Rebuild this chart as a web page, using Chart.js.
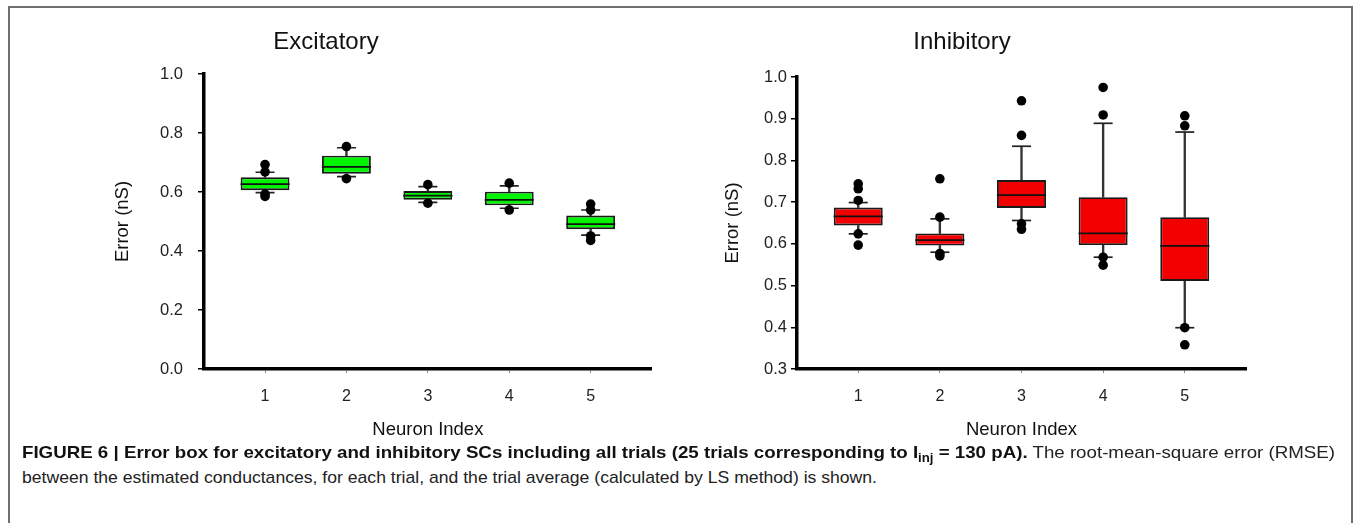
<!DOCTYPE html>
<html>
<head>
<meta charset="utf-8">
<script src="https://cdn.jsdelivr.net/npm/chart.js@4.4.1/dist/chart.umd.min.js"></script>
<style>
  html, body { margin: 0; padding: 0; background: #fff; }
  body { width: 1357px; height: 523px; position: relative; overflow: hidden; font-family: "Liberation Sans", Arial, sans-serif; }
  #frame { position: absolute; left: 8px; top: 6px; width: 1345px; height: 540px; border: 2px solid #6e6e6e; border-bottom: none; box-sizing: border-box; }
  #c1 { position: absolute; left: 0; top: 0; }
  #c2 { position: absolute; left: 678px; top: 0; }
  .cap { position: absolute; left: 22px; white-space: nowrap; font-size: 17px; line-height: 20px; color: #222; transform-origin: left center; }
  #l1 { top: 443px; }
  #l2 { top: 468px; }
  .cap b { font-weight: bold; color: #111; }
  sub { font-size: 12px; vertical-align: -4px; line-height: 0; }
</style>
</head>
<body>
<div id="frame"></div>
<canvas id="c1" width="678" height="445"></canvas>
<canvas id="c2" width="679" height="445"></canvas>
<div class="cap" id="l1"><b>FIGURE 6 | Error box for excitatory and inhibitory SCs including all trials (25 trials corresponding to I<sub>inj</sub> = 130 pA).</b> The root-mean-square error (RMSE)</div>
<div class="cap" id="l2">between the estimated conductances, for each trial, and the trial average (calculated by LS method) is shown.</div>
<script>
// ---------- data ----------
const categories = [1, 2, 3, 4, 5];
const xTicks = [1, 2, 3, 4, 5];

const excQ1  = [0.606, 0.662, 0.574, 0.555, 0.474];
const excMed = [0.627, 0.685, 0.588, 0.573, 0.491];
const excQ3  = [0.650, 0.723, 0.603, 0.601, 0.520];
const excLo  = [0.598, 0.652, 0.565, 0.545, 0.454];
const excHi  = [0.667, 0.750, 0.618, 0.621, 0.539];
const excOut = [
  [0.693, 0.668, 0.593, 0.585],
  [0.754, 0.645],
  [0.625, 0.562],
  [0.630, 0.539],
  [0.559, 0.539, 0.451, 0.436]
];
const excYTicks = [0.0, 0.2, 0.4, 0.6, 0.8, 1.0];

const inhQ1  = [0.644, 0.596, 0.686, 0.597, 0.511];
const inhMed = [0.666, 0.609, 0.717, 0.625, 0.595];
const inhQ3  = [0.687, 0.625, 0.753, 0.712, 0.664];
const inhLo  = [0.624, 0.580, 0.656, 0.568, 0.399];
const inhHi  = [0.699, 0.660, 0.834, 0.889, 0.868];
const inhOut = [
  [0.744, 0.732, 0.704, 0.624, 0.597],
  [0.756, 0.664, 0.577, 0.571],
  [0.943, 0.860, 0.648, 0.635],
  [0.975, 0.909, 0.568, 0.549],
  [0.907, 0.883, 0.399, 0.358]
];
const inhYTicks = [0.3, 0.4, 0.5, 0.6, 0.7, 0.8, 0.9, 1.0];

// ---------- chart builder ----------
const FONT = '"Liberation Sans", Arial, sans-serif';

function makeChart(canvasId, cfg) {
  const {q1, med, q3, lo, hi, out, yTicks, ymin, ymax, fill, title, lay} = cfg;
  const boxData = categories.map((c, i) => ({x: c, y: [q1[i], q3[i]]}));
  const upData  = categories.map((c, i) => ({x: c, y: [q3[i], hi[i]]}));
  const dnData  = categories.map((c, i) => ({x: c, y: [lo[i], q1[i]]}));
  const medData = categories.map((c, i) => ({x: c, y: med[i]}));
  const capData = categories.flatMap((c, i) => [{x: c, y: lo[i]}, {x: c, y: hi[i]}]);
  const outData = categories.flatMap((c, i) => out[i].map(v => ({x: c, y: v})));

  return new Chart(document.getElementById(canvasId), {
    type: 'bar',
    data: {
      datasets: [
        { type: 'bar', data: upData, backgroundColor: '#333', borderWidth: 0, barThickness: 1.7, grouped: false, order: 5 },
        { type: 'bar', data: dnData, backgroundColor: '#333', borderWidth: 0, barThickness: 1.7, grouped: false, order: 5 },
        { type: 'bar', data: boxData, backgroundColor: fill, borderColor: '#1a1a1a', borderWidth: 1.9,
          borderSkipped: false, barPercentage: 0.6, categoryPercentage: 1, grouped: false, order: 4 },
        { type: 'scatter', data: medData, pointStyle: 'line', pointRadius: 24.6, pointHoverRadius: 24.6,
          borderColor: '#111', borderWidth: 1.7, order: 3 },
        { type: 'scatter', data: capData, pointStyle: 'line', pointRadius: 9.5, pointHoverRadius: 9.5,
          borderColor: '#222', borderWidth: 1.7, order: 2 },
        { type: 'scatter', data: outData, pointStyle: 'circle', pointRadius: 4.8, pointHoverRadius: 4.8,
          backgroundColor: '#000', borderColor: '#000', borderWidth: 0, order: 1 }
      ]
    },
    options: {
      responsive: false,
      animation: false,
      events: [],
      layout: { padding: { left: 0, right: lay.padRight, top: 0, bottom: 0 } },
      plugins: {
        legend: { display: false },
        tooltip: { enabled: false },
        title: {
          display: true, text: title, color: '#111',
          font: { family: FONT, size: 24, weight: 'normal', lineHeight: 1.2 },
          padding: { top: lay.titleTop, bottom: lay.titleBottom }
        }
      },
      scales: {
        x: {
          type: 'linear', min: 0.25, max: 5.75, offset: false,
          afterBuildTicks: s => { s.ticks = xTicks.map(v => ({value: v})); },
          afterFit: s => { s.height = lay.xHeight; },
          grid: { display: true, offset: false, drawOnChartArea: false, drawTicks: true, tickLength: 4, color: '#888', lineWidth: 1 },
          border: { display: true, color: '#000', width: 3.5 },
          ticks: { color: '#222', padding: 14, font: { family: FONT, size: 16 }, callback: v => String(v) },
          title: { display: true, text: 'Neuron Index', color: '#111',
                   font: { family: FONT, size: 18.5, lineHeight: 1.2 }, padding: { top: 0, bottom: 4 } }
        },
        y: {
          type: 'linear', min: ymin, max: ymax,
          afterBuildTicks: s => { s.ticks = yTicks.map(v => ({value: v})); },
          afterFit: s => { s.width = lay.yWidth; },
          grid: { display: true, drawOnChartArea: false, drawTicks: true, tickLength: 6, color: '#000', lineWidth: 1.5 },
          border: { display: true, color: '#000', width: 3.5 },
          ticks: { color: '#222', padding: lay.yTickPad, font: { family: FONT, size: 16.5 }, callback: v => Number(v).toFixed(1) },
          title: { display: true, text: 'Error (nS)', color: '#111',
                   font: { family: FONT, size: 18.5, lineHeight: 1.2 }, padding: { top: lay.yTitlePad, bottom: 0 } }
        }
      }
    }
  });
}

makeChart('c1', {
  q1: excQ1, med: excMed, q3: excQ3, lo: excLo, hi: excHi, out: excOut,
  yTicks: excYTicks, ymin: 0, ymax: 1, fill: '#00f400', title: 'Excitatory',
  lay: { padRight: 26, titleTop: 27.6, titleBottom: 17.6, xHeight: 76, yWidth: 204, yTickPad: 15, yTitlePad: 112 }
});
makeChart('c2', {
  q1: inhQ1, med: inhMed, q3: inhQ3, lo: inhLo, hi: inhHi, out: inhOut,
  yTicks: inhYTicks, ymin: 0.3, ymax: 1.0, fill: '#f20000', title: 'Inhibitory',
  lay: { padRight: 111, titleTop: 27.6, titleBottom: 20.6, xHeight: 76, yWidth: 119, yTickPad: 4, yTitlePad: 44 }
});

// fit caption lines to the reference widths
[['l1', 1313], ['l2', 855]].forEach(([id, w]) => {
  const el = document.getElementById(id);
  const nat = el.getBoundingClientRect().width;
  if (nat > 0) el.style.transform = 'scaleX(' + (w / nat) + ')';
});
</script>
</body>
</html>
